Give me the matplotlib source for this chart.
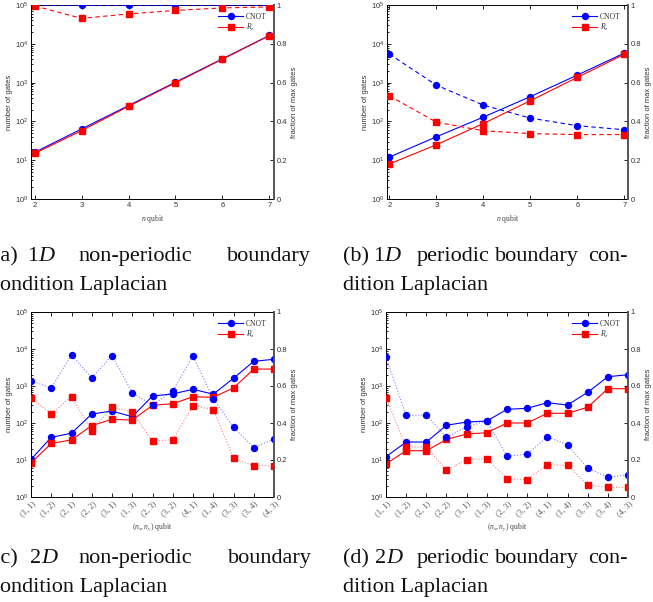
import numpy as np
import matplotlib
matplotlib.use("Agg")
import matplotlib.pyplot as plt
from matplotlib.ticker import FuncFormatter, LogLocator, NullFormatter

plt.rcParams['font.family'] = ['Liberation Sans', 'DejaVu Sans']
plt.rcParams['mathtext.fontset'] = 'custom'
plt.rcParams['mathtext.rm'] = 'Liberation Serif'
plt.rcParams['mathtext.it'] = 'Liberation Serif:italic'
plt.rcParams['mathtext.sf'] = 'Liberation Sans'

# 1D data
n_qubit = [2, 3, 4, 5, 6, 7]
a_cnot = [16, 64, 256, 1024, 4096, 16384]
a_rz = [15, 58, 245, 990, 4000, 16200]
a_cnot_frac = [1.0, 1.0, 1.0, 1.0, 1.0, 1.0]
a_rz_frac = [0.995, 0.931, 0.954, 0.972, 0.985, 0.99]

b_cnot = [12, 40, 129, 434, 1560, 5750]
b_rz = [8, 25, 88, 341, 1360, 5350]
b_cnot_frac = [0.747, 0.587, 0.484, 0.417, 0.378, 0.357]
b_rz_frac = [0.532, 0.396, 0.352, 0.337, 0.332, 0.332]

# 2D data
pairs = ['(1, 1)', '(1, 2)', '(2, 1)', '(2, 2)', '(3, 1)', '(1, 3)', '(2, 3)',
         '(3, 2)', '(4, 1)', '(1, 4)', '(3, 3)', '(3, 4)', '(4, 3)']
c_cnot = [10.4, 41, 53, 175, 210, 148, 538, 610, 815, 600, 1620, 4650, 5270]
c_rz = [8.3, 28, 35, 85, 126, 120, 301, 332, 513, 495, 885, 2870, 2870]
c_cnot_frac = [0.629, 0.589, 0.768, 0.645, 0.764, 0.564, 0.496, 0.573, 0.762,
               0.531, 0.377, 0.267, 0.314]
c_rz_frac = [0.535, 0.449, 0.542, 0.359, 0.486, 0.459, 0.301, 0.310, 0.494,
             0.472, 0.213, 0.169, 0.169]

d_cnot = [12.3, 30.6, 30.6, 87, 106, 113, 234, 250, 353, 306, 673, 1780, 2020]
d_rz = [7.9, 17.8, 17.8, 36, 50.5, 54.6, 100, 100, 183, 183, 266, 845, 845]
d_cnot_frac = [0.755, 0.441, 0.443, 0.323, 0.380, 0.411, 0.220, 0.232, 0.326,
               0.281, 0.157, 0.106, 0.121]
d_rz_frac = [0.537, 0.270, 0.270, 0.146, 0.202, 0.207, 0.099, 0.094, 0.173,
             0.173, 0.065, 0.052, 0.052]

W, H = 653, 602
fig = plt.figure(figsize=(W / 100, H / 100), dpi=100)

def add_ax(l, r, t, b):
    return fig.add_axes([l / W, 1 - b / H, (r - l) / W, (b - t) / H])

fs = 5.5
tcol = '#333333'

def log_label(v, pos):
    k = int(round(np.log10(v)))
    return r'$\mathsf{10}^{\mathsf{%d}}$' % k

def setup(ax, x, cnot, rz, cf, rf, frac_ls, pale):
    ax.set_yscale('log')
    ax.set_ylim(1, 1e5)
    ax.plot(x, cnot, '-', color='b', lw=0.8, marker='o', ms=4.3, label='CNOT')
    ax.plot(x, rz, '-', color='r', lw=0.8, marker='s', ms=4.3, label=r'$R_z$')
    ax.yaxis.set_major_locator(LogLocator(base=10, numticks=10))
    ax.yaxis.set_minor_locator(LogLocator(base=10, subs=np.arange(2, 10), numticks=10))
    ax.yaxis.set_major_formatter(FuncFormatter(log_label))
    ax.yaxis.set_minor_formatter(NullFormatter())
    ax.tick_params(which='both', direction='in', top=True, labelsize=fs,
                   labelcolor=tcol, width=0.6, pad=2)
    ax.tick_params(which='major', length=3)
    ax.tick_params(which='minor', length=1.6)
    ax.set_ylabel('number of gates', fontsize=fs, color=tcol, labelpad=1)
    for s in ['left', 'bottom', 'top']:
        ax.spines[s].set_linewidth(0.7)
    ax.spines['right'].set_visible(False)
    leg = ax.legend(loc='upper right', frameon=False, fontsize=fs,
                    handlelength=3.3, handletextpad=0.3, labelspacing=0.15,
                    borderaxespad=0.6)
    for t in leg.get_texts():
        t.set_family('Liberation Serif')
        t.set_color(tcol)

    ax2 = ax.twinx()
    ax2.set_ylim(0, 1)
    if pale:
        ax2.plot(x, cf, ls=frac_ls, color='b', lw=0.8, alpha=0.5)
        ax2.plot(x, rf, ls=frac_ls, color='r', lw=0.8, alpha=0.5)
        ax2.plot(x, cf, ls='none', color='b', marker='o', ms=4.3)
        ax2.plot(x, rf, ls='none', color='r', marker='s', ms=4.3)
    else:
        ax2.plot(x, cf, ls=frac_ls, color='b', lw=0.8, marker='o', ms=4.3)
        ax2.plot(x, rf, ls=frac_ls, color='r', lw=0.8, marker='s', ms=4.3)
    ax2.set_yticks([0, 0.2, 0.4, 0.6, 0.8, 1])
    ax2.set_yticklabels(['0', '0.2', '0.4', '0.6', '0.8', '1'])
    ax2.tick_params(direction='in', length=3, width=0.6, labelsize=fs,
                    labelcolor=tcol, pad=2)
    ax2.set_ylabel('fraction of max gates', fontsize=fs, color=tcol, labelpad=3)
    for s in ['left', 'bottom', 'top']:
        ax2.spines[s].set_visible(False)
    ax2.spines['right'].set_linewidth(1.4)
    ax2.spines['right'].set_color('#555555')
    return ax2

dash = (0, (4, 3))

ax_a = add_ax(31, 274, 5, 199)
setup(ax_a, n_qubit, a_cnot, a_rz, a_cnot_frac, a_rz_frac, dash, False)
ax_a.set_xlim(1.92, 7.1)

ax_b = add_ax(387, 628, 5, 199)
setup(ax_b, n_qubit, b_cnot, b_rz, b_cnot_frac, b_rz_frac, dash, False)
ax_b.set_xlim(1.95, 7.08)

for ax in [ax_a, ax_b]:
    ax.set_xticks(n_qubit)
    ax.set_xticklabels([str(v) for v in n_qubit])
    ax.set_xlabel(r'$n$ qubit', fontsize=fs, color='#444444', labelpad=3,
                  family='Liberation Serif')

xpos = np.arange(1, len(pairs) + 1)
ax_c = add_ax(31, 274, 312, 497)
setup(ax_c, xpos, c_cnot, c_rz, c_cnot_frac, c_rz_frac, ':', True)
ax_d = add_ax(386, 628, 312, 497)
setup(ax_d, xpos, d_cnot, d_rz, d_cnot_frac, d_rz_frac, ':', True)

for ax in [ax_c, ax_d]:
    ax.set_xlim(1, len(pairs))
    ax.set_xticks(xpos)
    ax.set_xticklabels(pairs, rotation=45, ha='right', va='top', fontsize=6,
                       rotation_mode='anchor', family='Liberation Serif',
                       color='#555555')
    ax.set_xlabel(r'$(n_x, n_y)$ qubit', fontsize=fs, color='#444444', labelpad=2,
                  family='Liberation Serif')

# captions, word by word to copy the justified layout
cap_fs = 16

def word(x, y, s, italic=False):
    fig.text(x / W, 1 - y / H, s, fontsize=cap_fs, family='Liberation Serif',
             style='italic' if italic else 'normal', va='baseline', ha='left',
             color='#111111')

def num_d(x, y, num):
    word(x, y, num)
    word(x + 11, y, 'D', italic=True)

word(-7, 261, '(a)')
num_d(27, 261, '1')
word(78, 261, 'non-periodic')
word(227, 261, 'boundary')
word(-9.5, 290, 'condition Laplacian')

word(343, 261, '(b)')
num_d(373, 261, '1')
word(417, 261, 'periodic')
word(495, 261, 'boundary')
word(588, 261, 'con-')
word(343, 290, 'dition Laplacian')

word(-7, 563, '(c)')
num_d(30, 563, '2')
word(78, 563, 'non-periodic')
word(228, 563, 'boundary')
word(-9.5, 592, 'condition Laplacian')

word(343, 563, '(d)')
num_d(375, 563, '2')
word(417, 563, 'periodic')
word(495, 563, 'boundary')
word(588, 563, 'con-')
word(343, 592, 'dition Laplacian')

fig.savefig('out.png', dpi=100)
